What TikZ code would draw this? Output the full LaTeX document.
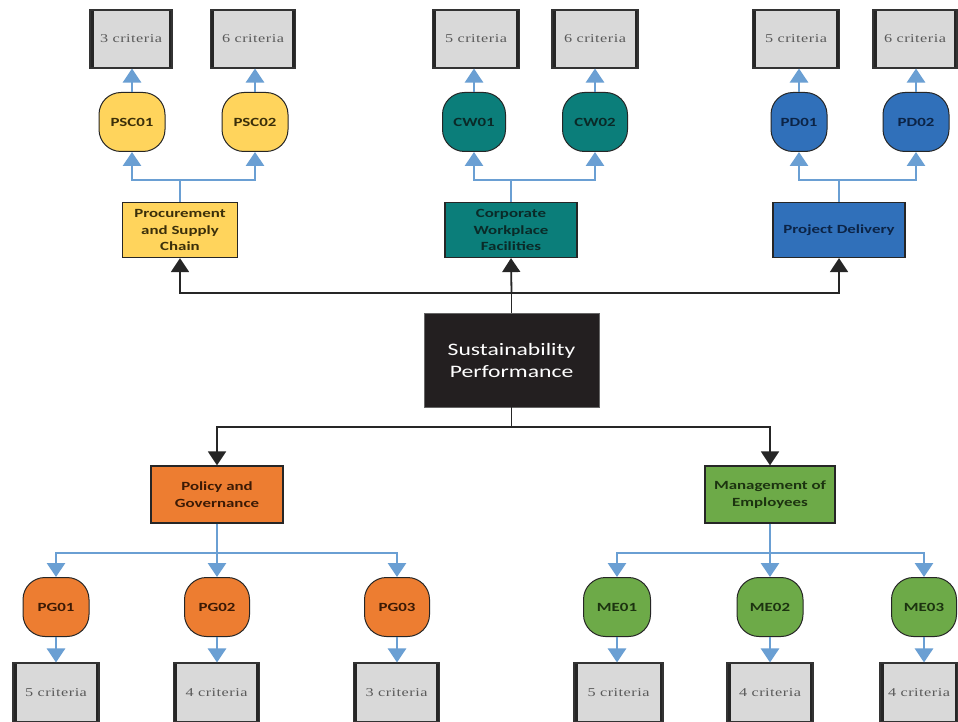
\documentclass[tikz,border=0pt]{standalone}
\usepackage{fontspec}
\setmainfont{Carlito}[FakeStretch=1.35]
\newfontfamily\critfamily{Liberation Serif}[FakeStretch=1.35,LetterSpace=4]
\usetikzlibrary{arrows.meta}

\definecolor{yelfill}{HTML}{FFD45C}
\definecolor{tealfill}{HTML}{0B7E7A}
\definecolor{bluefill}{HTML}{3070BA}
\definecolor{orangefill}{HTML}{ED7D31}
\definecolor{greenfill}{HTML}{6DAA48}
\definecolor{blueline}{HTML}{6A9FD3}
\definecolor{critgray}{HTML}{D9D9D9}
\definecolor{critink}{HTML}{5A5A5A}
\definecolor{corefill}{HTML}{231F20}
\definecolor{yelink}{HTML}{3B2F0A}
\definecolor{tealink}{HTML}{0A2A28}
\definecolor{blueink}{HTML}{0C2446}
\definecolor{orangeink}{HTML}{3B1A05}
\definecolor{greenink}{HTML}{1C3310}

\tikzset{
  x=1pt, y=-1pt,
  % grey leaf boxes with heavy side bars
  crit/.style={draw=black!80, line width=1.1pt, fill=critgray,
    minimum width=86pt, minimum height=58pt, inner sep=0pt,
    font=\critfamily\fontsize{12}{13}\selectfont, text=critink,
    path picture={
      \fill[black!85] (path picture bounding box.south west)
        rectangle ([xshift=3.5pt]path picture bounding box.north west);
      \fill[black!85] (path picture bounding box.south east)
        rectangle ([xshift=-3.5pt]path picture bounding box.north east);
    }},
  critdbl/.style={crit, append after command={
      \pgfextra{\draw[black!80, line width=0.9pt]
        ([xshift=7pt]\tikzlastnode.south west) -- ([xshift=7pt]\tikzlastnode.north west);}}},
  % rounded indicator nodes
  ind/.style={draw=black!85, line width=1pt, rounded corners=22pt,
    minimum width=66pt, minimum height=59pt, inner sep=0pt,
    font=\bfseries\fontsize{12.5}{13}\selectfont},
  % area boxes
  area/.style={draw=black!85, line width=1.2pt, minimum height=55pt,
    inner sep=1pt, align=center,
    font=\bfseries\fontsize{12.5}{16.5}\selectfont},
  core/.style={draw=black!60, line width=0.8pt, fill=corefill, text=white,
    minimum width=175pt, minimum height=94pt, align=center,
    font=\fontsize{17.5}{22}\selectfont},
  blk/.style={draw=black!85, line width=1.8pt},
  blkarrow/.style={blk, -{Triangle[width=18pt,length=14pt]}},
  blu/.style={draw=blueline, line width=2.8pt},
  bluarrow/.style={blu, -{Triangle[width=18pt,length=14pt]}},
  yel/.style={fill=yelfill, text=yelink},
  tea/.style={fill=tealfill, text=tealink},
  blf/.style={fill=bluefill, text=blueink},
  org/.style={fill=orangefill, text=orangeink},
  grn/.style={fill=greenfill, text=greenink},
}

\begin{document}
\begin{tikzpicture}
\useasboundingbox[fill=white] (0,0) rectangle (958,722);

% central node
\node[core] (sp) at (511.5,360) {Sustainability\\Performance};

% upper areas
\node[area, yel, minimum width=115pt] (psc) at (180,230) {Procurement\\and Supply\\Chain};
\node[area, tea, minimum width=132pt] (cwf) at (511,230) {Corporate\\Workplace\\Facilities};
\node[area, blf, minimum width=132pt] (pd)  at (839,230) {Project Delivery};

% lower areas
\node[area, org, minimum width=132pt, minimum height=57pt] (pg) at (217,494.5) {Policy and\\Governance};
\node[area, grn, minimum width=130pt, minimum height=57pt] (me) at (770,494.5) {Management of\\Employees};

% upper indicators
\node[ind, yel] (psc1) at (132,122) {PSC01};
\node[ind, yel] (psc2) at (255,122) {PSC02};
\node[ind, tea, minimum width=63pt] (cw1) at (474,122) {CW01};
\node[ind, tea, minimum width=65pt] (cw2) at (595,122) {CW02};
\node[ind, blf, minimum width=56pt] (pd1) at (799,122) {PD01};
\node[ind, blf] (pd2) at (916,122) {PD02};

% lower indicators
\node[ind, org] (pg1) at (56,607) {PG01};
\node[ind, org, minimum width=65pt] (pg2) at (217,607) {PG02};
\node[ind, org, minimum width=65pt] (pg3) at (397,607) {PG03};
\node[ind, grn, minimum width=67pt] (me1) at (617,607) {ME01};
\node[ind, grn] (me2) at (770,607) {ME02};
\node[ind, grn, minimum width=65pt] (me3) at (924,607) {ME03};

% upper criteria
\node[crit, minimum width=82pt] (c1) at (131,39) {3 criteria};
\node[crit, minimum width=85pt] (c2) at (253,39) {6 criteria};
\node[crit, minimum width=87pt] (c3) at (476,39) {5 criteria};
\node[crit, minimum width=86pt] (c4) at (595,39) {6 criteria};
\node[crit, minimum width=87pt] (c5) at (796,39) {5 criteria};
\node[crit, minimum width=84pt] (c6) at (915,39) {6 criteria};

% lower criteria
\node[crit, minimum height=59pt] (d1) at (56,692.5) {5 criteria};
\node[crit, minimum height=59pt] (d2) at (216.5,692.5) {4 criteria};
\node[critdbl, minimum height=59pt] (d3) at (396.5,692.5) {3 criteria};
\node[crit, minimum height=59pt, minimum width=89pt] (d4) at (618.5,692.5) {5 criteria};
\node[crit, minimum height=59pt] (d5) at (770,692.5) {4 criteria};
\node[critdbl, minimum height=59pt, minimum width=78pt] (d6) at (919,692.5) {4 criteria};

% black connectors from the core
\coordinate (topbus) at (511.5,293);
\coordinate (botbus) at (511.5,427);
\draw[blk] (sp.north) -- (topbus);
\draw[blkarrow] (topbus) -| (psc.south);
\draw[blkarrow] (topbus) -- (cwf.south);
\draw[blkarrow] (topbus) -| (pd.south);
\draw[blk] (sp.south) -- (botbus);
\draw[blkarrow] (botbus) -| (pg.north);
\draw[blkarrow] (botbus) -| (me.north);

% blue connectors, upper half
\coordinate (pscbus) at (180,180);
\coordinate (cwbus) at (511,180);
\coordinate (pdbus) at (839,180);
\draw[blu] (psc.north) -- (pscbus);
\draw[bluarrow] (pscbus) -| (psc1.south);
\draw[bluarrow] (pscbus) -| (psc2.south);
\draw[blu] (cwf.north) -- (cwbus);
\draw[bluarrow] (cwbus) -| (cw1.south);
\draw[bluarrow] (cwbus) -| (cw2.south);
\draw[blu] (pd.north) -- (pdbus);
\draw[bluarrow] (pdbus) -| (pd1.south);
\draw[bluarrow] (pdbus) -| (pd2.south);
\draw[bluarrow] (psc1.north) -- (c1.south -| psc1.north);
\draw[bluarrow] (psc2.north) -- (c2.south -| psc2.north);
\draw[bluarrow] (cw1.north) -- (c3.south -| cw1.north);
\draw[bluarrow] (cw2.north) -- (c4.south -| cw2.north);
\draw[bluarrow] (pd1.north) -- (c5.south -| pd1.north);
\draw[bluarrow] (pd2.north) -- (c6.south -| pd2.north);

% blue connectors, lower half
\coordinate (pgbus) at (217,553);
\coordinate (mebus) at (770,553);
\draw[blu] (pg.south) -- (pgbus);
\draw[bluarrow] (pgbus) -| (pg1.north);
\draw[bluarrow] (pgbus) -- (pg2.north);
\draw[bluarrow] (pgbus) -| (pg3.north);
\draw[blu] (me.south) -- (mebus);
\draw[bluarrow] (mebus) -| (me1.north);
\draw[bluarrow] (mebus) -- (me2.north);
\draw[bluarrow] (mebus) -| (me3.north);
\draw[bluarrow] (pg1.south) -- (d1.north -| pg1.south);
\draw[bluarrow] (pg2.south) -- (d2.north -| pg2.south);
\draw[bluarrow] (pg3.south) -- (d3.north -| pg3.south);
\draw[bluarrow] (me1.south) -- (d4.north -| me1.south);
\draw[bluarrow] (me2.south) -- (d5.north -| me2.south);
\draw[bluarrow] (me3.south) -- (d6.north -| me3.south);
\end{tikzpicture}
\end{document}
